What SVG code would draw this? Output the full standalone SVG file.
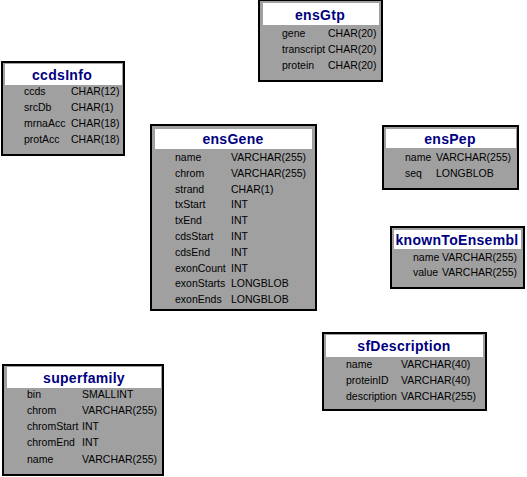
<svg xmlns="http://www.w3.org/2000/svg" width="527" height="477" viewBox="0 0 527 477">
<style>
.box{fill:#a0a0a0;stroke:#000;stroke-width:2}
.hdr{fill:#fff}
.t{font-family:"Liberation Sans",Arial,sans-serif;font-size:14px;font-weight:bold;fill:#000080;text-anchor:middle;letter-spacing:0.3px}
.f{font-family:"Liberation Sans",Arial,sans-serif;font-size:10.5px;fill:#000}
</style>
<rect width="527" height="477" fill="#fff"/>
<g id="connectors"></g>
<g id="ensGtp">
<rect class="box" x="259" y="0" width="123" height="81"/>
<rect class="hdr" x="263" y="3" width="116" height="22"/>
<text class="t" x="320" y="20">ensGtp</text>
<text class="f" x="282" y="37">gene</text><text class="f" x="328" y="37">CHAR(20)</text>
<text class="f" x="282" y="53">transcript</text><text class="f" x="328" y="53">CHAR(20)</text>
<text class="f" x="282" y="69">protein</text><text class="f" x="328" y="69">CHAR(20)</text>
</g>
<g id="ccdsInfo">
<rect class="box" x="2" y="62" width="122" height="93"/>
<rect class="hdr" x="5" y="64" width="117" height="21"/>
<text class="t" x="62" y="80">ccdsInfo</text>
<text class="f" x="24" y="95">ccds</text><text class="f" x="71" y="95">CHAR(12)</text>
<text class="f" x="24" y="111">srcDb</text><text class="f" x="71" y="111">CHAR(1)</text>
<text class="f" x="24" y="127">mrnaAcc</text><text class="f" x="71" y="127">CHAR(18)</text>
<text class="f" x="24" y="143">protAcc</text><text class="f" x="71" y="143">CHAR(18)</text>
</g>
<g id="ensGene">
<rect class="box" x="151" y="125" width="165" height="185"/>
<rect class="hdr" x="155" y="129" width="157" height="20"/>
<text class="t" x="233" y="144">ensGene</text>
<text class="f" x="175" y="161">name</text><text class="f" x="231" y="161">VARCHAR(255)</text>
<text class="f" x="175" y="177">chrom</text><text class="f" x="231" y="177">VARCHAR(255)</text>
<text class="f" x="175" y="193">strand</text><text class="f" x="231" y="193">CHAR(1)</text>
<text class="f" x="175" y="208">txStart</text><text class="f" x="231" y="208">INT</text>
<text class="f" x="175" y="224">txEnd</text><text class="f" x="231" y="224">INT</text>
<text class="f" x="175" y="240">cdsStart</text><text class="f" x="231" y="240">INT</text>
<text class="f" x="175" y="256">cdsEnd</text><text class="f" x="231" y="256">INT</text>
<text class="f" x="175" y="272">exonCount</text><text class="f" x="231" y="272">INT</text>
<text class="f" x="175" y="287">exonStarts</text><text class="f" x="231" y="287">LONGBLOB</text>
<text class="f" x="175" y="303">exonEnds</text><text class="f" x="231" y="303">LONGBLOB</text>
</g>
<g id="ensPep">
<rect class="box" x="383" y="126" width="135" height="63"/>
<rect class="hdr" x="386" y="129" width="130" height="19"/>
<text class="t" x="450" y="144">ensPep</text>
<text class="f" x="405" y="161">name</text><text class="f" x="436" y="161">VARCHAR(255)</text>
<text class="f" x="405" y="177">seq</text><text class="f" x="436" y="177">LONGBLOB</text>
</g>
<g id="knownToEnsembl">
<rect class="box" x="391" y="227" width="133" height="61"/>
<rect class="hdr" x="394" y="230" width="127" height="19"/>
<text class="t" x="457" y="245">knownToEnsembl</text>
<text class="f" x="413" y="261">name</text><text class="f" x="442" y="261">VARCHAR(255)</text>
<text class="f" x="413" y="276">value</text><text class="f" x="442" y="276">VARCHAR(255)</text>
</g>
<g id="sfDescription">
<rect class="box" x="323" y="333" width="163" height="77"/>
<rect class="hdr" x="326" y="335" width="157" height="22"/>
<text class="t" x="404" y="351">sfDescription</text>
<text class="f" x="346" y="368">name</text><text class="f" x="401" y="368">VARCHAR(40)</text>
<text class="f" x="346" y="384">proteinID</text><text class="f" x="401" y="384">VARCHAR(40)</text>
<text class="f" x="346" y="400">description</text><text class="f" x="401" y="400">VARCHAR(255)</text>
</g>
<g id="superfamily">
<rect class="box" x="3" y="365" width="160" height="110"/>
<rect class="hdr" x="7" y="367" width="154" height="21"/>
<text class="t" x="84" y="383">superfamily</text>
<text class="f" x="27" y="398">bin</text><text class="f" x="82" y="398">SMALLINT</text>
<text class="f" x="27" y="414">chrom</text><text class="f" x="82" y="414">VARCHAR(255)</text>
<text class="f" x="27" y="430">chromStart</text><text class="f" x="82" y="430">INT</text>
<text class="f" x="27" y="446">chromEnd</text><text class="f" x="82" y="446">INT</text>
<text class="f" x="27" y="463">name</text><text class="f" x="82" y="463">VARCHAR(255)</text>
</g>
</svg>
